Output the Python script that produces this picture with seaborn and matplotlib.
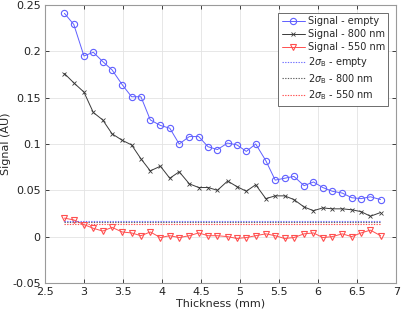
import numpy as np
import pandas as pd
import matplotlib
matplotlib.use('Agg')
import matplotlib.pyplot as plt
import seaborn as sns

# thickness (mm)
thickness = [2.75, 2.87, 3.00, 3.12, 3.24, 3.36, 3.49, 3.61, 3.73, 3.85, 3.98, 4.10,
             4.22, 4.35, 4.47, 4.59, 4.71, 4.84, 4.96, 5.08, 5.20, 5.33, 5.45, 5.57,
             5.69, 5.82, 5.94, 6.06, 6.18, 6.31, 6.43, 6.55, 6.67, 6.80]
# signal values (AU)
sig_empty = [0.241, 0.229, 0.195, 0.199, 0.189, 0.180, 0.164, 0.151, 0.151, 0.126, 0.120, 0.117,
             0.100, 0.108, 0.108, 0.097, 0.094, 0.101, 0.099, 0.092, 0.100, 0.082, 0.061, 0.063,
             0.065, 0.055, 0.059, 0.053, 0.049, 0.047, 0.042, 0.041, 0.043, 0.040]
sig_800 = [0.176, 0.166, 0.156, 0.134, 0.126, 0.111, 0.104, 0.099, 0.084, 0.071, 0.076, 0.063,
           0.070, 0.057, 0.053, 0.053, 0.050, 0.060, 0.054, 0.049, 0.056, 0.041, 0.044, 0.044,
           0.040, 0.032, 0.028, 0.031, 0.030, 0.030, 0.029, 0.027, 0.022, 0.026]
sig_550 = [0.020, 0.018, 0.013, 0.009, 0.006, 0.010, 0.005, 0.004, 0.001, 0.005, -0.001, 0.001,
           -0.001, 0.001, 0.004, 0.001, 0.001, 0.000, -0.002, -0.001, 0.001, 0.003, 0.001, -0.002,
           -0.001, 0.003, 0.004, -0.001, 0.000, 0.003, 0.000, 0.004, 0.007, 0.001]
# 2 sigma background thresholds
thr_empty = 0.0165
thr_800 = 0.016
thr_550 = 0.0135

df = pd.DataFrame({'thickness': thickness, 'empty': sig_empty,
                   '800': sig_800, '550': sig_550})

sns.set_style('white')
plt.rcParams['font.family'] = ['DejaVu Sans']
plt.rcParams['mathtext.fontset'] = 'dejavusans'

fig = plt.figure(figsize=(4.01, 3.13), dpi=100)
ax = fig.add_axes([0.112, 0.096, 0.876, 0.888])

blue = '#5f5fff'
dark = '#3a3a3a'
red = '#ff4f4f'

sns.lineplot(data=df, x='thickness', y='empty', ax=ax, color=blue, lw=0.7,
             marker='o', markersize=4.5, markerfacecolor='none', markeredgecolor=blue,
             markeredgewidth=0.8, label='Signal - empty')
sns.lineplot(data=df, x='thickness', y='800', ax=ax, color=dark, lw=0.7,
             marker='x', markersize=3, markeredgecolor=dark, markeredgewidth=0.6,
             label='Signal - 800 nm')
sns.lineplot(data=df, x='thickness', y='550', ax=ax, color=red, lw=0.7,
             marker='v', markersize=4.5, markerfacecolor='none', markeredgecolor=red,
             markeredgewidth=0.8, label='Signal - 550 nm')

x0, x1 = thickness[0], thickness[-1]
dots = (0, (1.2, 1.2))
ax.hlines(thr_800, x0, x1, colors=dark, linestyles=dots, lw=0.8, alpha=0.8, zorder=1)
ax.hlines(thr_empty, x0, x1, colors=blue, linestyles=dots, lw=0.8, alpha=0.9,
          label=r'2$\sigma_{\mathrm{B}}$ - empty', zorder=2)
ax.plot([], [], color=dark, ls=dots, lw=0.8, alpha=0.8,
        label=r'2$\sigma_{\mathrm{B}}$ - 800 nm')
ax.hlines(thr_550, x0, x1, colors=red, linestyles=dots, lw=0.8,
          label=r'2$\sigma_{\mathrm{B}}$ - 550 nm', zorder=2)

ax.set_xlim(2.5, 7)
ax.set_ylim(-0.05, 0.25)
ax.set_xticks([2.5, 3, 3.5, 4, 4.5, 5, 5.5, 6, 6.5, 7])
ax.set_xticklabels(['2.5', '3', '3.5', '4', '4.5', '5', '5.5', '6', '6.5', '7'])
ax.set_yticks([-0.05, 0, 0.05, 0.1, 0.15, 0.2, 0.25])
ax.set_yticklabels(['-0.05', '0', '0.05', '0.1', '0.15', '0.2', '0.25'])
ax.grid(True, color='#e3e3e3', lw=0.6)
ax.tick_params(direction='in', length=3, width=0.6, labelsize=8, colors='#222222',
               top=True, right=True, bottom=True, left=True, pad=3)
for s in ax.spines.values():
    s.set_color('#9a9a9a')
    s.set_linewidth(0.8)
ax.set_xlabel('Thickness (mm)', fontsize=8, labelpad=1)
ax.set_ylabel('Signal (AU)', fontsize=8, labelpad=1)

handles, labels = ax.get_legend_handles_labels()
leg = ax.legend(handles, labels, loc='upper right', fontsize=7, numpoints=1,
                frameon=True, fancybox=False, edgecolor='#555555', framealpha=1,
                handlelength=2.4, handletextpad=0.3, labelspacing=0.3,
                borderpad=0.35, borderaxespad=0.8)
leg.get_frame().set_linewidth(0.6)

fig.savefig('out.png', dpi=100)
